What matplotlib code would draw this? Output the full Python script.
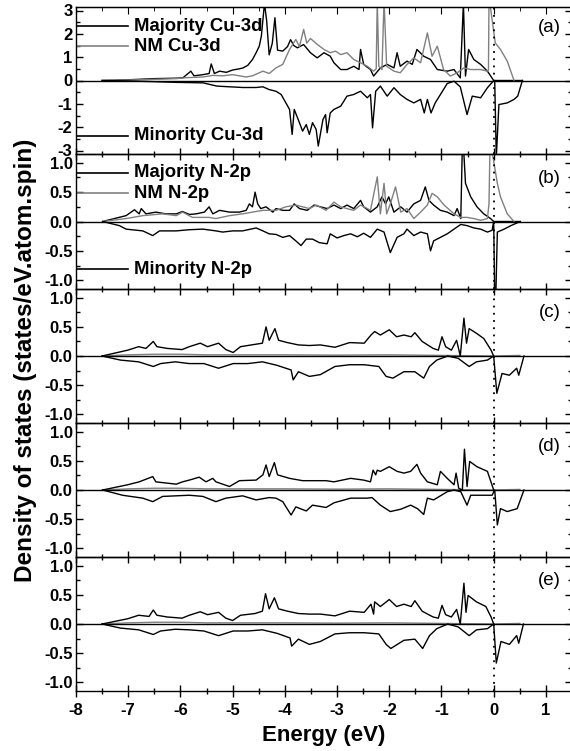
import matplotlib
matplotlib.use('Agg')
import matplotlib.pyplot as plt
from matplotlib.ticker import MultipleLocator, FormatStrFormatter

plt.rcParams['font.family'] = ['Liberation Sans', 'DejaVu Sans']
plt.rcParams['axes.unicode_minus'] = False

# ---------------- data (energy in eV, DOS in states/eV.atom.spin) ----------------
a_up = [(-7.5,0),(-7.0,0.03),(-6.5,0.08),(-6.05,0.1),(-5.95,0.12),(-5.8,0.4),(-5.74,0.2),(-5.57,0.25),
        (-5.45,0.3),(-5.41,0.71),(-5.35,0.3),(-5.25,0.4),(-5.12,0.35),(-5.0,0.45),(-4.87,0.5),(-4.8,0.54),
        (-4.71,0.65),(-4.62,0.9),(-4.55,1.19),(-4.49,1.47),(-4.45,1.9),(-4.39,3.3),(-4.35,2.6),(-4.3,1.1),
        (-4.24,1.6),(-4.19,2.69),(-4.14,1.3),(-4.04,1.26),(-3.95,1.45),(-3.89,1.75),(-3.83,1.5),(-3.76,1.4),
        (-3.64,1.54),(-3.51,1.19),(-3.38,0.97),(-3.25,1.19),(-3.13,1.04),(-3.06,0.76),(-2.93,0.47),(-2.81,0.47),
        (-2.68,0.61),(-2.58,0.47),(-2.55,1.33),(-2.49,0.69),(-2.36,0.47),(-2.3,0.19),(-2.17,0.54),(-2.04,0.69),
        (-1.91,0.54),(-1.85,1.19),(-1.79,0.61),(-1.66,0.83),(-1.56,0.69),(-1.47,1.33),(-1.34,1.04),(-1.21,0.9),
        (-1.08,0.47),(-0.89,0.4),(-0.76,0.47),(-0.64,0.11),(-0.58,3.3),(-0.54,0.19),(-0.48,1.33),(-0.38,0.9),
        (-0.25,0.69),(-0.12,0.4),(0.0,0.0),(0.55,0.0)]
a_nm = [(-7.5,0),(-7.0,0.02),(-6.5,0.05),(-6.08,0.08),(-5.89,0.12),(-5.57,0.15),(-5.38,0.22),(-5.19,0.2),
        (-5.0,0.25),(-4.87,0.2),(-4.74,0.15),(-4.62,0.2),(-4.42,0.4),(-4.3,0.3),(-4.17,0.54),(-4.04,0.69),
        (-3.91,1.33),(-3.79,1.76),(-3.72,1.45),(-3.64,2.19),(-3.58,1.6),(-3.51,1.8),(-3.38,1.55),(-3.25,1.33),
        (-3.13,1.19),(-3.03,1.26),(-2.93,1.11),(-2.81,1.19),(-2.68,0.9),(-2.55,0.76),(-2.42,0.61),(-2.3,0.4),
        (-2.25,0.5),(-2.23,3.4),(-2.2,0.61),(-2.14,0.47),(-2.1,3.4),(-2.05,0.61),(-1.91,0.4),(-1.79,0.33),
        (-1.66,0.69),(-1.53,0.97),(-1.4,0.76),(-1.27,2.04),(-1.18,1.04),(-1.08,1.47),(-0.96,0.47),(-0.83,0.19),
        (-0.7,0.33),(-0.57,0.54),(-0.44,0.47),(-0.25,0.47),(-0.12,0.4),(-0.1,0.45),(-0.09,3.4),(-0.06,3.1),
        (0.03,1.61),(0.13,1.33),(0.26,0.83),(0.39,0.0)]
a_dn = [(-7.5,0),(-7.0,-0.02),(-6.5,-0.05),(-6.08,-0.08),(-5.57,-0.1),(-5.3,-0.24),(-5.06,-0.27),(-4.8,-0.3),
        (-4.55,-0.3),(-4.42,-0.27),(-4.3,-0.39),(-4.17,-0.46),(-4.07,-0.6),(-3.98,-0.96),(-3.91,-1.24),
        (-3.86,-2.31),(-3.82,-1.24),(-3.72,-1.81),(-3.66,-2.17),(-3.59,-1.89),(-3.53,-2.31),(-3.47,-1.81),
        (-3.4,-2.1),(-3.36,-2.81),(-3.27,-1.67),(-3.22,-1.46),(-3.19,-2.24),(-3.13,-1.39),(-3.06,-1.24),
        (-2.93,-1.10),(-2.81,-0.67),(-2.68,-0.6),(-2.55,-0.46),(-2.42,-0.74),(-2.36,-0.6),(-2.32,-2.03),
        (-2.26,-0.46),(-2.17,-0.24),(-2.04,-0.67),(-1.91,-0.31),(-1.79,-0.6),(-1.66,-0.81),(-1.53,-0.96),
        (-1.4,-0.81),(-1.33,-1.39),(-1.27,-0.81),(-1.2,-1.39),(-1.12,-0.96),(-1.02,-0.6),(-0.89,-0.13),
        (-0.76,-0.03),(-0.64,-0.27),(-0.51,-1.46),(-0.41,-0.67),(-0.25,-0.74),(-0.12,-0.31),(-0.01,-0.03),
        (0.02,0),(0.05,-3.3),(0.1,-1.03),(0.26,-0.96),(0.39,-0.81),(0.46,-0.67),(0.55,0)]

b_up = [(-7.49,0),(-7.04,0.10),(-6.88,0.2),(-6.79,0.13),(-6.75,0.22),(-6.66,0.13),(-6.47,0.16),(-6.28,0.13),
        (-6.08,0.13),(-5.96,0.17),(-5.83,0.12),(-5.70,0.13),(-5.54,0.16),(-5.45,0.25),(-5.38,0.13),(-5.25,0.19),
        (-5.06,0.16),(-4.87,0.16),(-4.74,0.19),(-4.68,0.3),(-4.62,0.25),(-4.57,0.5),(-4.52,0.3),(-4.46,0.22),
        (-4.36,0.25),(-4.23,0.16),(-4.17,0.22),(-4.04,0.19),(-3.91,0.19),(-3.82,0.3),(-3.72,0.22),(-3.57,0.19),
        (-3.44,0.28),(-3.32,0.25),(-3.19,0.22),(-3.06,0.28),(-2.93,0.22),(-2.81,0.28),(-2.68,0.22),(-2.55,0.36),
        (-2.49,0.25),(-2.36,0.16),(-2.23,0.25),(-2.14,0.42),(-2.07,0.3),(-2.01,0.42),(-1.91,0.16),(-1.78,0.25),
        (-1.66,0.16),(-1.53,0.3),(-1.40,0.36),(-1.31,0.59),(-1.24,0.36),(-1.15,0.28),(-1.02,0.19),(-0.89,0.16),
        (-0.76,0.1),(-0.70,0.22),(-0.63,0.05),(-0.60,1.3),(-0.58,1.3),(-0.54,0.65),(-0.44,0.42),(-0.32,0.25),
        (-0.19,0.13),(-0.06,0.05),(0.0,0.0),(0.5,0.0)]
b_nm = [(-7.49,0),(-7.04,0.05),(-6.72,0.1),(-6.34,0.13),(-6.08,0.1),(-5.96,0.16),(-5.77,0.07),(-5.45,0.07),
        (-5.32,0.05),(-5.06,0.1),(-4.81,0.13),(-4.62,0.16),(-4.42,0.19),(-4.17,0.19),(-3.98,0.25),(-3.79,0.28),
        (-3.53,0.22),(-3.40,0.28),(-3.21,0.19),(-3.06,0.33),(-2.93,0.25),(-2.81,0.22),(-2.68,0.19),(-2.55,0.28),
        (-2.42,0.22),(-2.36,0.19),(-2.23,0.76),(-2.17,0.13),(-2.10,0.65),(-2.05,0.13),(-1.98,0.3),(-1.88,0.59),
        (-1.78,0.16),(-1.66,0.22),(-1.53,0.05),(-1.40,0.16),(-1.27,0.28),(-1.18,0.48),(-1.08,0.42),(-0.95,0.28),
        (-0.76,0.13),(-0.63,0.07),(-0.51,0.07),(-0.38,0.05),(-0.25,0.02),(-0.12,0.05),(-0.09,0.3),(-0.07,1.3),
        (-0.05,1.3),(0.07,0.65),(0.13,0.42),(0.26,0.13),(0.39,0.0)]
b_dn = [(-7.49,0),(-7.17,-0.07),(-7.04,-0.13),(-6.72,-0.16),(-6.53,-0.24),(-6.40,-0.16),(-6.08,-0.16),
        (-5.83,-0.14),(-5.57,-0.13),(-5.32,-0.16),(-5.19,-0.18),(-5.0,-0.16),(-4.81,-0.16),(-4.55,-0.11),
        (-4.42,-0.16),(-4.30,-0.21),(-4.17,-0.22),(-4.04,-0.27),(-3.91,-0.24),(-3.79,-0.33),(-3.69,-0.41),
        (-3.59,-0.30),(-3.47,-0.30),(-3.34,-0.36),(-3.19,-0.38),(-3.13,-0.21),(-3.0,-0.28),(-2.87,-0.24),
        (-2.74,-0.21),(-2.61,-0.26),(-2.49,-0.20),(-2.36,-0.27),(-2.23,-0.13),(-2.10,-0.18),(-1.98,-0.53),
        (-1.85,-0.27),(-1.72,-0.21),(-1.66,-0.13),(-1.53,-0.24),(-1.40,-0.18),(-1.27,-0.21),(-1.21,-0.5),
        (-1.15,-0.33),(-1.02,-0.27),(-0.89,-0.21),(-0.76,-0.13),(-0.63,-0.05),(-0.51,-0.07),(-0.38,-0.11),
        (-0.25,-0.13),(-0.12,-0.18),(-0.03,-0.15),(0.0,0),(0.02,-1.3),(0.04,-1.3),(0.07,-0.18),(0.2,-0.13),
        (0.33,-0.07),(0.51,0)]

c_up = [(-7.5,0),(-7.01,0.10),(-6.8,0.16),(-6.66,0.13),(-6.52,0.25),(-6.45,0.16),(-6.25,0.13),(-5.97,0.11),
        (-5.83,0.16),(-5.62,0.22),(-5.48,0.16),(-5.27,0.22),(-5.13,0.11),(-4.99,0.06),(-4.85,0.16),(-4.57,0.2),
        (-4.43,0.22),(-4.36,0.5),(-4.30,0.27),(-4.19,0.47),(-4.12,0.27),(-3.95,0.23),(-3.74,0.19),(-3.53,0.18),
        (-3.32,0.19),(-3.04,0.15),(-2.76,0.23),(-2.48,0.22),(-2.35,0.36),(-2.28,0.42),(-2.17,0.36),(-2.0,0.45),
        (-1.86,0.33),(-1.72,0.36),(-1.58,0.33),(-1.51,0.4),(-1.37,0.25),(-1.16,0.13),(-1.06,0.1),(-0.99,0.33),
        (-0.92,0.16),(-0.81,0.1),(-0.71,0.27),(-0.64,0.0),(-0.57,0.65),(-0.52,0.22),(-0.47,0.47),(-0.33,0.39),
        (-0.19,0.3),(-0.05,0.1),(0.0,0.0)]
c_dn = [(-7.5,0),(-7.15,-0.07),(-6.8,-0.1),(-6.52,-0.18),(-6.38,-0.13),(-6.1,-0.1),(-5.83,-0.13),(-5.55,-0.13),
        (-5.27,-0.21),(-4.99,-0.13),(-4.71,-0.13),(-4.43,-0.1),(-4.15,-0.16),(-3.88,-0.24),(-3.84,-0.41),
        (-3.74,-0.27),(-3.53,-0.35),(-3.32,-0.32),(-3.04,-0.18),(-2.76,-0.15),(-2.48,-0.15),(-2.2,-0.18),
        (-2.06,-0.35),(-1.93,-0.38),(-1.72,-0.27),(-1.51,-0.27),(-1.34,-0.38),(-1.23,-0.18),(-1.09,-0.07),
        (-0.88,0.0),(-0.68,-0.04),(-0.47,-0.18),(-0.33,-0.1),(-0.12,-0.07),(0.0,0.0),(0.06,-0.64),(0.16,-0.3),
        (0.3,-0.33),(0.44,-0.21),(0.48,-0.33),(0.58,0)]

d_up = [(-7.49,0),(-7.01,0.09),(-6.79,0.14),(-6.53,0.23),(-6.47,0.14),(-6.08,0.1),(-5.96,0.14),(-5.83,0.17),
        (-5.64,0.22),(-5.51,0.14),(-5.38,0.2),(-5.32,0.14),(-5.06,0.06),(-4.87,0.16),(-4.55,0.17),(-4.42,0.26),
        (-4.36,0.43),(-4.30,0.23),(-4.20,0.47),(-4.14,0.26),(-3.91,0.20),(-3.66,0.16),(-3.40,0.16),(-3.21,0.16),
        (-3.06,0.14),(-2.74,0.2),(-2.49,0.17),(-2.36,0.14),(-2.31,0.34),(-2.26,0.26),(-2.23,0.34),(-2.17,0.32),
        (-2.0,0.4),(-1.85,0.32),(-1.72,0.29),(-1.59,0.32),(-1.47,0.44),(-1.40,0.29),(-1.27,0.14),(-1.08,0.09),
        (-1.02,0.32),(-0.89,0.2),(-0.76,0.09),(-0.72,0.29),(-0.67,0.03),(-0.60,0.0),(-0.56,0.7),(-0.51,0.06),
        (-0.46,0.49),(-0.32,0.4),(-0.12,0.32),(0.0,0.0)]
d_dn = [(-7.49,0),(-7.11,-0.09),(-6.72,-0.14),(-6.53,-0.2),(-6.34,-0.11),(-6.08,-0.10),(-5.83,-0.09),
        (-5.57,-0.11),(-5.32,-0.2),(-5.13,-0.14),(-4.81,-0.10),(-4.55,-0.17),(-4.30,-0.13),(-4.17,-0.14),
        (-4.04,-0.20),(-3.88,-0.43),(-3.79,-0.29),(-3.59,-0.36),(-3.47,-0.26),(-3.21,-0.30),(-3.06,-0.22),
        (-2.74,-0.14),(-2.42,-0.14),(-2.33,-0.13),(-2.17,-0.26),(-1.98,-0.37),(-1.78,-0.33),(-1.59,-0.26),
        (-1.46,-0.32),(-1.34,-0.42),(-1.27,-0.14),(-1.15,-0.17),(-1.02,-0.1),(-0.89,-0.03),(-0.76,0.0),
        (-0.63,-0.03),(-0.51,-0.26),(-0.44,-0.09),(-0.19,-0.09),(-0.03,-0.09),(0.02,0.0),(0.07,-0.6),
        (0.13,-0.32),(0.26,-0.37),(0.45,-0.32),(0.58,0.0)]

e_up = [(-7.5,0),(-7.01,0.09),(-6.8,0.15),(-6.6,0.13),(-6.52,0.24),(-6.45,0.15),(-6.25,0.12),(-5.97,0.1),
        (-5.83,0.15),(-5.62,0.21),(-5.48,0.16),(-5.27,0.2),(-5.13,0.1),(-5.0,0.06),(-4.85,0.15),(-4.57,0.18),
        (-4.43,0.22),(-4.37,0.52),(-4.30,0.26),(-4.20,0.45),(-4.12,0.26),(-3.95,0.22),(-3.74,0.18),(-3.53,0.17),
        (-3.32,0.17),(-3.04,0.14),(-2.76,0.22),(-2.48,0.2),(-2.35,0.34),(-2.30,0.17),(-2.28,0.38),(-2.17,0.3),
        (-2.0,0.42),(-1.86,0.3),(-1.72,0.34),(-1.58,0.3),(-1.51,0.4),(-1.37,0.22),(-1.16,0.12),(-1.06,0.1),
        (-0.99,0.32),(-0.92,0.16),(-0.81,0.12),(-0.71,0.25),(-0.64,0.0),(-0.57,0.7),(-0.53,0.2),(-0.49,0.49),
        (-0.33,0.38),(-0.15,0.3),(-0.05,0.12),(0.0,0.0)]
e_dn = [(-7.5,0),(-7.15,-0.07),(-6.8,-0.1),(-6.52,-0.18),(-6.38,-0.12),(-6.1,-0.09),(-5.83,-0.1),
        (-5.55,-0.12),(-5.27,-0.2),(-4.99,-0.12),(-4.71,-0.12),(-4.43,-0.1),(-4.15,-0.16),(-3.90,-0.24),
        (-3.87,-0.38),(-3.74,-0.26),(-3.53,-0.35),(-3.32,-0.3),(-3.04,-0.17),(-2.76,-0.15),(-2.48,-0.15),
        (-2.2,-0.17),(-2.06,-0.35),(-1.97,-0.42),(-1.72,-0.28),(-1.51,-0.26),(-1.36,-0.42),(-1.23,-0.2),
        (-1.09,-0.08),(-0.88,0.0),(-0.68,-0.05),(-0.47,-0.2),(-0.33,-0.1),(-0.12,-0.08),(0.0,0.0),
        (0.05,-0.67),(0.14,-0.3),(0.3,-0.35),(0.44,-0.2),(0.48,-0.33),(0.57,0)]

nm_small = [(-7.5,0),(-7.0,0.02),(-6.5,0.03),(-6.0,0.03),(-5.5,0.02),(-5.0,0.02),(-4.0,0.02),(-3.0,0.015),
            (-2.0,0.02),(-1.0,0.01),(0.0,0.0),(0.5,0.01)]

panel_letters = ['(a)', '(b)', '(c)', '(d)', '(e)']
legend_a = [('Majority Cu-3d', 'k', 2.32), ('NM Cu-3d', '#808080', 1.46), ('Minority Cu-3d', 'k', -2.36)]
legend_b = [('Majority N-2p', 'k', 0.83), ('NM N-2p', '#808080', 0.48), ('Minority N-2p', 'k', -0.81)]
xticks = [-8, -7, -6, -5, -4, -3, -2, -1, 0, 1]

# ---------------- figure ----------------
W, H = 570, 751
fig = plt.figure(figsize=(W / 100, H / 100), dpi=100)
left_px, right_px = 76, 572
bounds = [(7, 154), (154, 289), (289, 423), (423, 557), (557, 691)]
GRAY = '#808080'

curves = [
    [(a_up, 'k'), (a_nm, GRAY), (a_dn, 'k')],
    [(b_up, 'k'), (b_nm, GRAY), (b_dn, 'k')],
    [(nm_small, GRAY), (c_up, 'k'), (c_dn, 'k')],
    [(nm_small, GRAY), (d_up, 'k'), (d_dn, 'k')],
    [(nm_small, GRAY), (e_up, 'k'), (e_dn, 'k')],
]

axes = []
for i, (top, bot) in enumerate(bounds):
    ax = fig.add_axes([left_px / W, 1 - bot / H, (right_px - left_px) / W, (bot - top) / H])
    axes.append(ax)
    for data, col in curves[i]:
        xs = [p[0] for p in data]
        ys = [p[1] for p in data]
        ax.plot(xs, ys, color=col, lw=1.0)
    ax.axhline(0, color='k', lw=1.0)
    ax.axvline(0, color='k', lw=1.3, ls=(0, (1, 3)))
    ax.set_xlim(-8, 1.5)
    ax.xaxis.set_major_locator(MultipleLocator(1))
    ax.xaxis.set_minor_locator(MultipleLocator(0.5))
    if i == 0:
        ax.set_ylim(-3.15, 3.15)
        ax.yaxis.set_major_locator(MultipleLocator(1))
        ax.yaxis.set_minor_locator(MultipleLocator(0.5))
        ax.yaxis.set_major_formatter(FormatStrFormatter('%d'))
        ax.text(1.07, 2.27, panel_letters[i], fontsize=13.5, ha='center', va='center')
    else:
        ax.set_ylim(-1.15, 1.15)
        ax.set_yticks([-1.0, -0.5, 0.0, 0.5, 1.0])
        ax.yaxis.set_minor_locator(MultipleLocator(0.25))
        ax.yaxis.set_major_formatter(FormatStrFormatter('%.1f'))
        ax.text(1.07, 0.74, panel_letters[i], fontsize=13.5, ha='center', va='center')
    ax.tick_params(axis='x', which='major', direction='inout', length=9, width=1.0, top=False)
    ax.tick_params(axis='x', which='minor', direction='inout', length=5, width=1.0, top=False)
    ax.tick_params(axis='y', which='major', direction='in', length=5, width=1.0, right=True, pad=2.5)
    ax.tick_params(axis='y', which='minor', direction='in', length=3, width=1.0, right=True)
    for lab in ax.get_yticklabels():
        lab.set_fontsize(12)
        lab.set_fontweight('bold')
    if i < 4:
        ax.tick_params(axis='x', labelbottom=False)
    else:
        ax.set_xticks(xticks)
        ax.set_xticklabels([str(v) for v in xticks], fontsize=12, fontweight='bold')
        ax.tick_params(axis='x', pad=4)
    for sp in ax.spines.values():
        sp.set_linewidth(1.0)
    ax.patch.set_alpha(0)

# top ticks on the top panel
sec = axes[0].secondary_xaxis('top')
sec.xaxis.set_major_locator(MultipleLocator(1))
sec.xaxis.set_minor_locator(MultipleLocator(0.5))
sec.tick_params(which='major', direction='in', length=5, labeltop=False)
sec.tick_params(which='minor', direction='in', length=3)

# legends
for ax, entries in ((axes[0], legend_a), (axes[1], legend_b)):
    for label, col, yv in entries:
        ax.plot([-8, -7.0], [yv, yv], color=col, lw=1.2)
        ax.text(-6.88, yv, label, fontsize=13.3, fontweight='bold', ha='left', va='center')

fig.text(0.044, 0.52, 'Density of states (states/eV.atom.spin)', rotation=90,
         fontsize=17.5, fontweight='bold', ha='center', va='center')
fig.text(324 / W, 1 - 735 / H, 'Energy (eV)', fontsize=16, fontweight='bold', ha='center', va='center')

fig.savefig('out.png', dpi=100)
